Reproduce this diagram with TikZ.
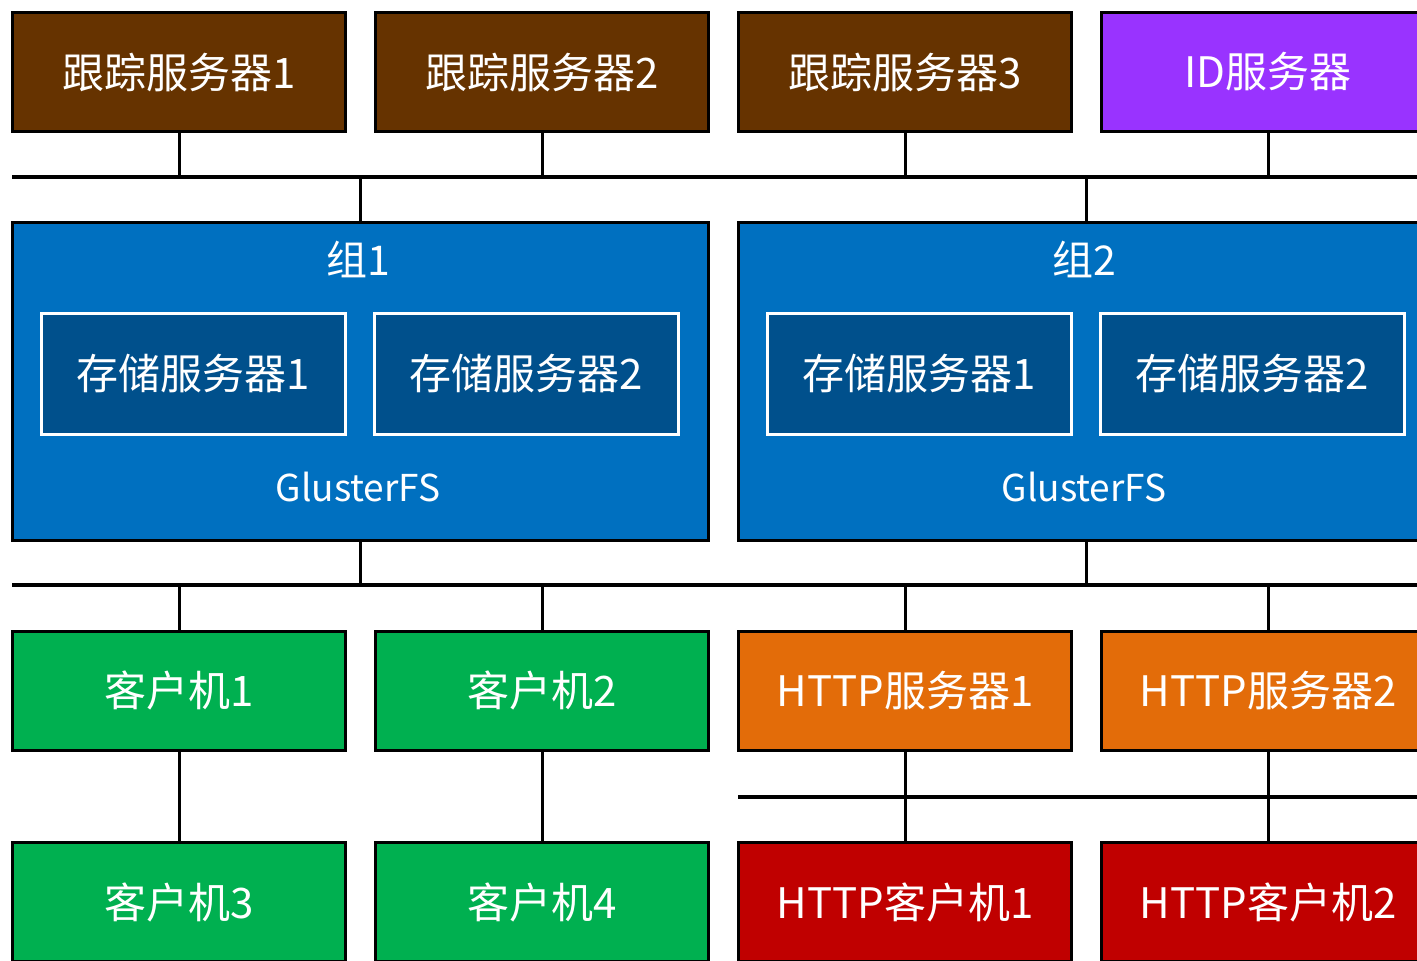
\documentclass[tikz,border=0pt]{standalone}
\usepackage{fontspec}
\setmainfont{Noto Sans CJK SC}
\definecolor{tracker}{HTML}{663300}
\definecolor{idsrv}{HTML}{9933FF}
\definecolor{grp}{HTML}{0070C0}
\definecolor{store}{HTML}{00508C}
\definecolor{client}{HTML}{00B050}
\definecolor{httpsrv}{HTML}{E36C09}
\definecolor{httpcli}{HTML}{C00000}
\tikzset{
  box/.style={draw=black, line width=3pt, minimum width=333pt, minimum height=119pt,
    inner sep=0pt, text=white, font=\fontsize{42}{50}\selectfont},
  grpbox/.style={draw=black, line width=3pt, fill=grp, minimum width=696pt,
    minimum height=318pt, inner sep=0pt},
  storebox/.style={draw=white, line width=3pt, fill=store, minimum width=304pt,
    minimum height=121pt, inner sep=0pt, text=white, font=\fontsize{42}{50}\selectfont},
  grplabel/.style={text=white, font=\fontsize{41}{48}\selectfont, inner sep=0pt},
  fslabel/.style={text=white, font=\fontsize{37}{44}\selectfont, inner sep=0pt},
  bus/.style={line width=3.5pt},
  link/.style={line width=3pt},
}
\begin{document}
\begin{tikzpicture}[x=1pt, y=-1pt]
\useasboundingbox (0,0) rectangle (1417,961);
\clip (0,0) rectangle (1417,961);
\fill[white] (0,0) rectangle (1417,961);

% trackers and ID server
\node[box, fill=tracker] (t1) at (179,72) {跟踪服务器1};
\node[box, fill=tracker] (t2) at (542,72) {跟踪服务器2};
\node[box, fill=tracker] (t3) at (905,72) {跟踪服务器3};
\node[box, fill=idsrv]   (id) at (1268,72) {ID服务器};

% storage groups
\node[grpbox] (g1) at (360.5,381.5) {};
\node[grpbox] (g2) at (1086.5,381.5) {};
\node[grplabel] (g1t) at (358,259) {组1};
\node[grplabel] (g2t) at (1084,259) {组2};
\node[storebox] (s11) at (193.5,374) {存储服务器1};
\node[storebox] (s12) at (526.5,374) {存储服务器2};
\node[storebox] (s21) at (919.5,374) {存储服务器1};
\node[storebox] (s22) at (1252.5,374) {存储服务器2};
\node[fslabel] (fs1) at (358,487) {GlusterFS};
\node[fslabel] (fs2) at (1084,487) {GlusterFS};

% clients and HTTP servers
\node[box, fill=client]  (c1) at (179,690.5) {客户机1};
\node[box, fill=client]  (c2) at (542,690.5) {客户机2};
\node[box, fill=httpsrv] (h1) at (905,690.5) {HTTP服务器1};
\node[box, fill=httpsrv] (h2) at (1268,690.5) {HTTP服务器2};

\node[box, fill=client]  (c3) at (179,902) {客户机3};
\node[box, fill=client]  (c4) at (542,902) {客户机4};
\node[box, fill=httpcli] (hc1) at (905,902) {HTTP客户机1};
\node[box, fill=httpcli] (hc2) at (1268,902) {HTTP客户机2};

% network buses
\coordinate (busAL) at (12,177);
\coordinate (busAR) at (1417,177);
\coordinate (busBL) at (12,585);
\coordinate (busBR) at (1417,585);
\coordinate (busCL) at (738,797);
\coordinate (busCR) at (1417,797);
\draw[bus] (busAL) -- (busAR);
\draw[bus] (busBL) -- (busBR);
\draw[bus] (busCL) -- (busCR);

% upper bus links
\foreach \n in {t1,t2,t3,id}
  \draw[link] (\n.south) -- (\n.south |- busAL);
\draw[link] (busAL -| g1.north) -- (g1.north);
\draw[link] (busAL -| g2.north) -- (g2.north);

% lower bus links
\draw[link] (g1.south) -- (g1.south |- busBL);
\draw[link] (g2.south) -- (g2.south |- busBL);
\foreach \n in {c1,c2,h1,h2}
  \draw[link] (busBL -| \n.north) -- (\n.north);

% client chains
\draw[link] (c1.south) -- (c3.north);
\draw[link] (c2.south) -- (c4.north);
\draw[link] (h1.south) -- (hc1.north);
\draw[link] (h2.south) -- (hc2.north);
\end{tikzpicture}
\end{document}
